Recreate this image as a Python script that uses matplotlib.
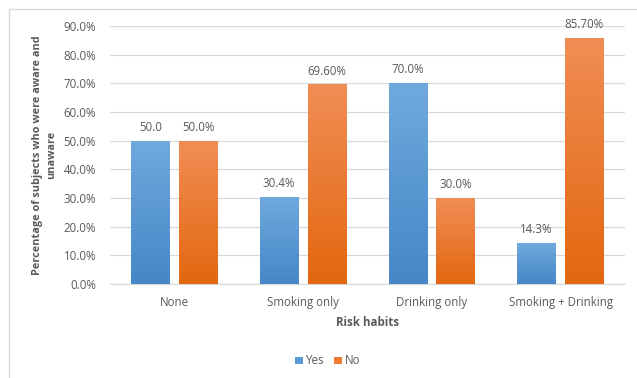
import numpy as np
import matplotlib
matplotlib.use("Agg")
import matplotlib.pyplot as plt
from matplotlib.patches import Rectangle
from matplotlib.colors import LinearSegmentedColormap

categories = ["None", "Smoking only", "Drinking only", "Smoking + Drinking"]
yes_values = [50.0, 30.4, 70.0, 14.3]
no_values = [50.0, 69.6, 30.0, 85.7]
yes_labels = ["50.0", "30.4%", "70.0%", "14.3%"]
no_labels = ["50.0%", "69.60%", "30.0%", "85.70%"]
y_ticks = [0, 10, 20, 30, 40, 50, 60, 70, 80, 90]

TEXT = "#595959"
GRID = "#D9D9D9"
plt.rcParams["font.family"] = ["Open Sans", "DejaVu Sans"]

fig = plt.figure(figsize=(6.37, 3.78), dpi=100)
ax = fig.add_axes([0.1727, 0.2487, 0.8083, 0.6825])

# chart frame (extends past the right and bottom edges)
fig.patches.append(Rectangle((9 / 637, -0.1), 1.2, 1.1 - 9 / 378,
                             transform=fig.transFigure, fill=False,
                             edgecolor=GRID, linewidth=1.0, zorder=0))

x = np.arange(len(categories))
w = 0.30
off = 0.186

blue_cmap = LinearSegmentedColormap.from_list("b", ["#4587C8", "#70A9DD"])
orange_cmap = LinearSegmentedColormap.from_list("o", ["#E3670F", "#F18D55"])

def gradient_bars(xs, vals, cmap, label, legend_color):
    bars = ax.bar(xs, vals, width=w, color=legend_color, label=label, zorder=2)
    grad = np.linspace(0, 1, 256).reshape(-1, 1)
    for b in bars:
        x0, y0 = b.get_x(), b.get_y()
        im = ax.imshow(grad, cmap=cmap, origin="lower", aspect="auto",
                       extent=[x0, x0 + b.get_width(), y0, y0 + b.get_height()],
                       zorder=3, interpolation="bilinear")
        im.set_clip_path(b)
    return bars

bars_yes = gradient_bars(x - off, yes_values, blue_cmap, "Yes", "#5B9BD5")
bars_no = gradient_bars(x + off, no_values, orange_cmap, "No", "#ED7D31")

for bars, labels in ((bars_yes, yes_labels), (bars_no, no_labels)):
    for b, t in zip(bars, labels):
        ax.annotate(t, (b.get_x() + b.get_width() / 2, b.get_height()),
                    xytext=(0, 5), textcoords="offset points",
                    ha="center", va="bottom", fontsize=8.3, color=TEXT)

ax.set_xlim(-0.5, len(categories) - 0.5)
ax.set_ylim(0, 90)
ax.set_yticks(y_ticks)
ax.set_yticklabels([f"{v:.1f}%" for v in y_ticks])
ax.set_xticks(x)
ax.set_xticklabels(categories)
ax.tick_params(axis="both", length=0, colors=TEXT, labelsize=8.3)
ax.tick_params(axis="x", pad=9)
ax.tick_params(axis="y", pad=10)
ax.yaxis.grid(True, color=GRID, linewidth=0.9, zorder=0)
ax.set_axisbelow(True)
for s in ("top", "right", "left"):
    ax.spines[s].set_visible(False)
ax.spines["bottom"].set_color(GRID)
ax.spines["bottom"].set_linewidth(0.9)

fig.text(367.5 / 637, 1 - 322 / 378, "Risk habits", ha="center", va="center",
         fontsize=8.3, fontweight="bold", color=TEXT)
fig.text(44.5 / 637, 1 - 155 / 378,
         "Percentage of subjects who were aware and\nunaware",
         rotation=90, ha="center", va="center", multialignment="center",
         fontsize=7.8, fontweight="bold", color=TEXT, linespacing=1.45)

leg = fig.legend(handles=[bars_yes, bars_no], labels=["Yes", "No"],
                 loc="center", bbox_to_anchor=(328 / 637, 1 - 361 / 378),
                 ncol=2, frameon=False, fontsize=8.3, handlelength=0.65,
                 handleheight=0.65, handletextpad=0.3, columnspacing=0.8,
                 labelcolor=TEXT)

fig.savefig("out.png", dpi=100)
